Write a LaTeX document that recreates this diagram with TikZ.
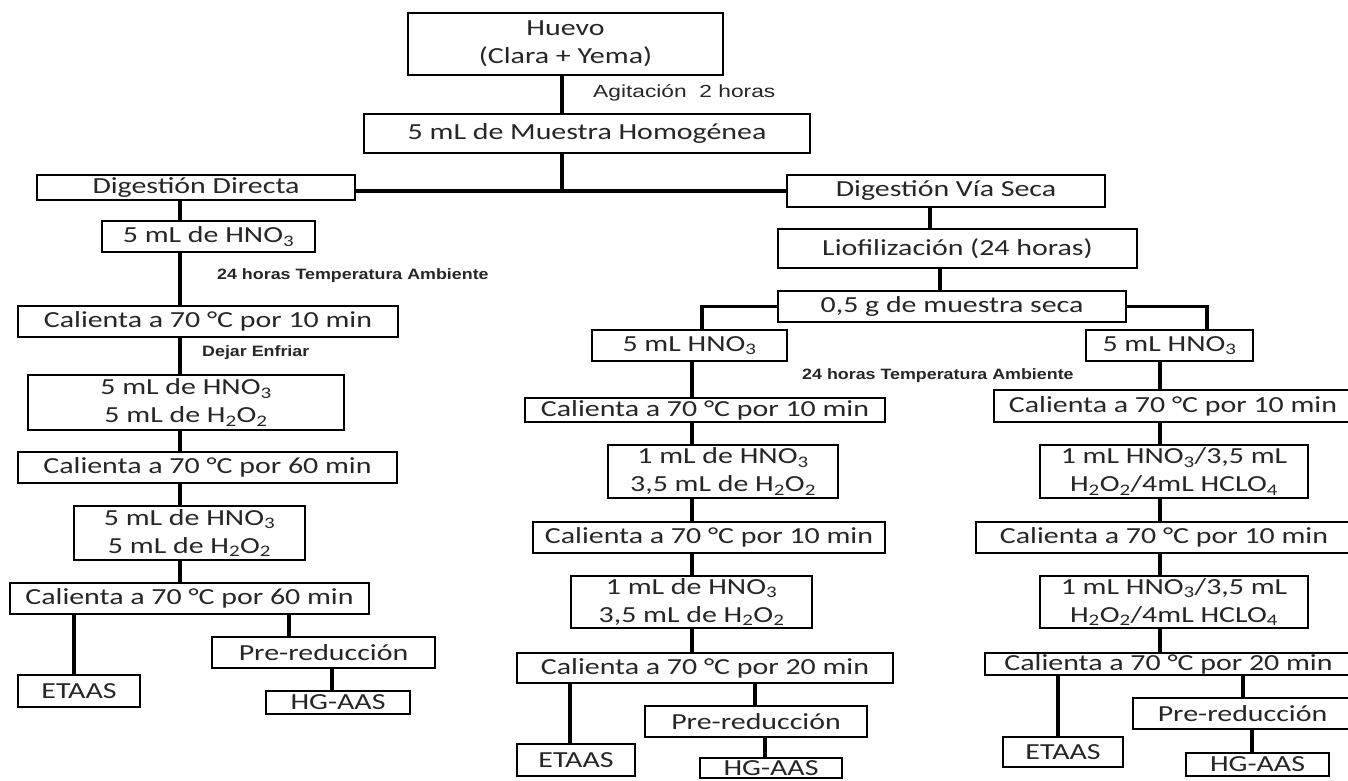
\documentclass[tikz,border=0pt]{standalone}
\usepackage{fontspec}
\setmainfont{Carlito}[FakeStretch=1.3]
\newfontfamily\lblfont{Liberation Sans}[FakeStretch=1.19]
\newfontfamily\agitfont{Liberation Sans}[FakeStretch=1.3]
\begin{document}
\begin{tikzpicture}[x=1pt,y=1pt]
\tikzset{
 box/.style={draw=black, line width=2.2pt, inner sep=0pt, align=center, text=black!85, font=\fontsize{23}{28}\selectfont},
 conn/.style={line width=3.6pt, draw=black},
 lbl/.style={inner sep=0pt, anchor=west, text=black!85},
 blbl/.style={lbl, font=\lblfont\bfseries\fontsize{15}{18}\selectfont},
}
\newcommand{\bx}[6]{\node[box, minimum width={(#3-#2)*1pt}, minimum height={(#5-#4)*1pt}] (#1) at ({(#2+#3)/2},{-(#4+#5)/2}) {#6};}
\fill[white] (0,0) rectangle (1348,-780);
\useasboundingbox (0,0) rectangle (1348,-780);
% columns
\coordinate (cTop) at (562,0);
\coordinate (hj) at (562,-191);
\coordinate (cL) at (180,0);
\coordinate (cLe) at (74,0);
\coordinate (cLp) at (289,0);
\coordinate (cLh) at (332,0);
\coordinate (cV1) at (930,0);
\coordinate (cV2) at (940,0);
\coordinate (cSL) at (702,0);
\coordinate (cSR) at (1207,0);
\coordinate (cM) at (692,0);
\coordinate (cMe) at (570,0);
\coordinate (cMp) at (755,0);
\coordinate (cMh) at (765,0);
\coordinate (cR) at (1160,0);
\coordinate (cRe) at (1058,0);
\coordinate (cRp) at (1243,0);
\coordinate (cRh) at (1252,0);
% top
\bx{huevo}{408}{723}{13}{75}{Huevo\\(Clara + Yema)}
\bx{muestra}{364}{810}{114}{153}{5 mL de Muestra Homogénea}
\bx{dd}{37}{355}{175}{200}{Digestión Directa}
\bx{vs}{787}{1105}{175}{207}{Digestión Vía Seca}
\bx{lio}{778}{1137}{229}{268}{Liofilización (24 horas)}
\bx{seca}{778}{1126}{291}{322}{0,5 g de muestra seca}
% left column
\bx{l1}{102}{315}{221}{252}{5 mL de HNO\textsubscript{3}}
\bx{l2}{18}{398}{306}{337}{Calienta a 70 °C por 10 min}
\bx{l3}{28}{344}{375}{430}{5 mL de HNO\textsubscript{3}\\5 mL de H\textsubscript{2}O\textsubscript{2}}
\bx{l4}{18}{397}{452}{483}{Calienta a 70 °C por 60 min}
\bx{l5}{74}{305}{506}{560}{5 mL de HNO\textsubscript{3}\\5 mL de H\textsubscript{2}O\textsubscript{2}}
\bx{l6}{10}{369}{583}{614}{Calienta a 70 °C por 60 min}
\bx{l7}{18}{140}{675}{707}{ETAAS}
\bx{l8}{212}{435}{637}{668}{Pre-reducción}
\bx{l9}{266}{410}{691}{714}{HG-AAS}
% middle column
\bx{m1}{592}{787}{330}{361}{5 mL HNO\textsubscript{3}}
\bx{m2}{525}{885}{398}{422}{Calienta a 70 °C por 10 min}
\bx{m3}{608}{838}{445}{498}{1 mL de HNO\textsubscript{3}\\3,5 mL de H\textsubscript{2}O\textsubscript{2}}
\bx{m4}{533}{885}{522}{553}{Calienta a 70 °C por 10 min}
\bx{m5}{571}{812}{576}{628}{1 mL de HNO\textsubscript{3}\\3,5 mL de H\textsubscript{2}O\textsubscript{2}}
\bx{m6}{517}{893}{653}{683}{Calienta a 70 °C por 20 min}
\bx{m7}{517}{635}{744}{776}{ETAAS}
\bx{m8}{645}{867}{706}{737}{Pre-reducción}
\bx{m9}{700}{842}{758}{778}{HG-AAS}
% right column
\bx{r1}{1086}{1253}{330}{361}{5 mL HNO\textsubscript{3}}
\bx{r2}{994}{1352}{390}{422}{Calienta a 70 °C por 10 min}
\bx{r3}{1040}{1308}{445}{498}{1 mL HNO\textsubscript{3}/3,5 mL\\H\textsubscript{2}O\textsubscript{2}/4mL HCLO\textsubscript{4}}
\bx{r4}{976}{1352}{522}{553}{Calienta a 70 °C por 10 min}
\bx{r5}{1040}{1308}{576}{628}{1 mL HNO\textsubscript{3}/3,5 mL\\H\textsubscript{2}O\textsubscript{2}/4mL HCLO\textsubscript{4}}
\bx{r6}{985}{1352}{653}{675}{Calienta a 70 °C por 20 min}
\bx{r7}{1003}{1123}{737}{767}{ETAAS}
\bx{r8}{1133}{1352}{698}{729}{Pre-reducción}
\bx{r9}{1186}{1329}{753}{776}{HG-AAS}
% labels
\node[lbl, font=\agitfont\fontsize{17.5}{20}\selectfont] (agit) at (593,-93) {Agitación\ \ 2 horas};
\node[blbl] (t24a) at (217,-276) {24 horas Temperatura Ambiente};
\node[blbl] (dej) at (202,-353) {Dejar Enfriar};
\node[blbl] (t24b) at (802,-376) {24 horas Temperatura Ambiente};
% connectors top
\draw[conn] (huevo.south -| cTop) -- (muestra.north -| cTop);
\draw[conn] (muestra.south -| cTop) -- (hj);
\draw[conn] (dd.east |- hj) -- (vs.west |- hj);
\draw[conn] (vs.south -| cV1) -- (lio.north -| cV1);
\draw[conn] (lio.south -| cV2) -- (seca.north -| cV2);
\draw[conn] (seca.west) -| (m1.north -| cSL);
\draw[conn] (seca.east) -| (r1.north -| cSR);
% left
\draw[conn] (dd.south -| cL) -- (l1.north -| cL);
\draw[conn] (l1.south -| cL) -- (l2.north -| cL);
\draw[conn] (l2.south -| cL) -- (l3.north -| cL);
\draw[conn] (l3.south -| cL) -- (l4.north -| cL);
\draw[conn] (l4.south -| cL) -- (l5.north -| cL);
\draw[conn] (l5.south -| cL) -- (l6.north -| cL);
\draw[conn] (l6.south -| cLe) -- (l7.north -| cLe);
\draw[conn] (l6.south -| cLp) -- (l8.north -| cLp);
\draw[conn] (l8.south -| cLh) -- (l9.north -| cLh);
% middle
\draw[conn] (m1.south -| cM) -- (m2.north -| cM);
\draw[conn] (m2.south -| cM) -- (m3.north -| cM);
\draw[conn] (m3.south -| cM) -- (m4.north -| cM);
\draw[conn] (m4.south -| cM) -- (m5.north -| cM);
\draw[conn] (m5.south -| cM) -- (m6.north -| cM);
\draw[conn] (m6.south -| cMe) -- (m7.north -| cMe);
\draw[conn] (m6.south -| cMp) -- (m8.north -| cMp);
\draw[conn] (m8.south -| cMh) -- (m9.north -| cMh);
% right
\draw[conn] (r1.south -| cR) -- (r2.north -| cR);
\draw[conn] (r2.south -| cR) -- (r3.north -| cR);
\draw[conn] (r3.south -| cR) -- (r4.north -| cR);
\draw[conn] (r4.south -| cR) -- (r5.north -| cR);
\draw[conn] (r5.south -| cR) -- (r6.north -| cR);
\draw[conn] (r6.south -| cRe) -- (r7.north -| cRe);
\draw[conn] (r6.south -| cRp) -- (r8.north -| cRp);
\draw[conn] (r8.south -| cRh) -- (r9.north -| cRh);
\end{tikzpicture}
\end{document}
